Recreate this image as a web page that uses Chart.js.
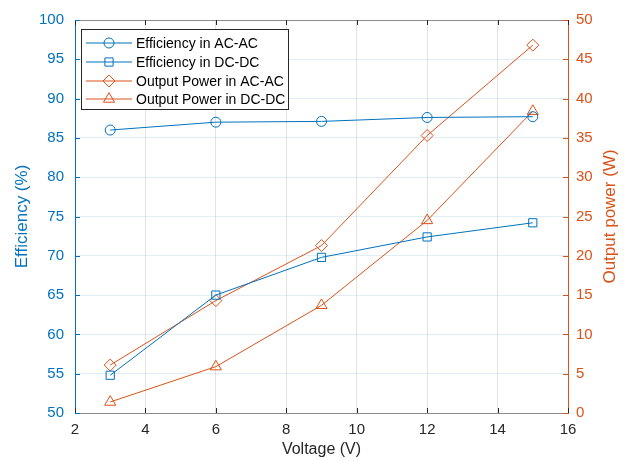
<!DOCTYPE html>
<html><head><meta charset="utf-8">
<script src="https://cdn.jsdelivr.net/npm/chart.js@4/dist/chart.umd.min.js"></script>
<style>html,body{margin:0;padding:0;background:#fff}#wrap{width:627px;height:460px}</style>
</head><body><div id="wrap"><canvas id="c" width="627" height="460"></canvas></div>
<script>
const voltage = [3, 6, 9, 12, 15];
const effACAC = [86.0, 87.0, 87.1, 87.6, 87.7];
const effDCDC = [54.8, 65.0, 69.8, 72.4, 74.2];
const powACAC = [6.1, 14.3, 21.3, 35.3, 46.8];
const powDCDC = [1.4, 5.9, 13.7, 24.5, 38.4];
const seriesNames = ['Efficiency in AC-AC', 'Efficiency in DC-DC', 'Output Power in AC-AC', 'Output Power in DC-DC'];
const xTicks = [2, 4, 6, 8, 10, 12, 14, 16];

const BLUE = '#0072BD', ORANGE = '#D95319', AX = '#262626';
const FONT = '"Liberation Sans", Arial, Helvetica, sans-serif';
const seriesColors = [BLUE, BLUE, ORANGE, ORANGE];
const seriesMarkers = ['circle', 'rect', 'rectRot', 'triangle'];
const markerRadius = [5, 5.8, 6, 6.4];
const pts = ys => voltage.map((v, i) => ({x: v, y: ys[i]}));

function ds(i, ys, axis) {
  const color = seriesColors[i];
  return {label: seriesNames[i], data: pts(ys), borderColor: color, backgroundColor: 'rgba(0,0,0,0)',
    borderWidth: 1, pointStyle: seriesMarkers[i], pointRadius: markerRadius[i], pointHoverRadius: markerRadius[i],
    pointBorderColor: color, pointBackgroundColor: 'rgba(0,0,0,0)', pointBorderWidth: 1,
    yAxisID: axis, tension: 0};
}

const datasets = [
  ds(0, effACAC, 'y'),
  ds(1, effDCDC, 'y'),
  ds(2, powACAC, 'y1'),
  ds(3, powDCDC, 'y1')
];

const framePlugin = {
  id: 'frame',
  afterDraw(chart) {
    const {ctx, chartArea: a, scales} = chart;
    ctx.save();
    ctx.lineWidth = 1;
    ctx.strokeStyle = '#8c8c8c';
    ctx.beginPath(); ctx.moveTo(a.left, a.top + 0.5); ctx.lineTo(a.right, a.top + 0.5); ctx.stroke();
    const tl = 5;
    ctx.strokeStyle = AX;
    xTicks.forEach(t => {
      const px = Math.round(scales.x.getPixelForValue(t)) + 0.5;
      ctx.beginPath(); ctx.moveTo(px, a.bottom); ctx.lineTo(px, a.bottom - tl);
      ctx.moveTo(px, a.top); ctx.lineTo(px, a.top + tl); ctx.stroke();
    });
    ctx.strokeStyle = BLUE;
    for (let v = 50; v <= 100; v += 5) {
      const py = Math.round(scales.y.getPixelForValue(v)) + 0.5;
      ctx.beginPath(); ctx.moveTo(a.left, py); ctx.lineTo(a.left + tl, py); ctx.stroke();
    }
    ctx.strokeStyle = ORANGE;
    for (let v = 0; v <= 50; v += 5) {
      const py = Math.round(scales.y1.getPixelForValue(v)) + 0.5;
      ctx.beginPath(); ctx.moveTo(a.right, py); ctx.lineTo(a.right - tl, py); ctx.stroke();
    }
    // right axis title (reads bottom to top)
    ctx.save();
    ctx.translate(610, (a.top + a.bottom) / 2);
    ctx.rotate(-Math.PI / 2);
    ctx.fillStyle = ORANGE;
    ctx.font = '17px ' + FONT;
    ctx.textAlign = 'center';
    ctx.textBaseline = 'middle';
    ctx.fillText('Output power (W)', 0, 0);
    ctx.restore();
    // legend
    const bx = 81.5, by = 29.5, bw = 207, bh = 80;
    ctx.fillStyle = '#fff';
    ctx.fillRect(bx, by, bw, bh);
    ctx.strokeStyle = AX;
    ctx.lineWidth = 1;
    ctx.strokeRect(bx, by, bw, bh);
    const rows = [43, 62, 81, 99];
    ctx.textBaseline = 'middle';
    ctx.textAlign = 'left';
    seriesNames.forEach((name, i) => {
      const y = rows[i];
      ctx.lineWidth = 1;
      ctx.strokeStyle = seriesColors[i];
      ctx.beginPath(); ctx.moveTo(86, y); ctx.lineTo(132, y); ctx.stroke();
      ctx.fillStyle = 'rgba(0,0,0,0)';
      Chart.helpers.drawPoint(ctx, {pointStyle: seriesMarkers[i], radius: markerRadius[i], rotation: 0, borderWidth: 1}, 109, y);
      ctx.fillStyle = '#000';
      ctx.font = '14px ' + FONT;
      ctx.fillText(name, 136, y + 1);
    });
    ctx.restore();
  }
};

new Chart(document.getElementById('c'), {
  type: 'line',
  data: {datasets},
  plugins: [framePlugin],
  options: {
    responsive: false, animation: false, devicePixelRatio: 1,
    layout: {padding: {top: 18, left: 0, right: 0, bottom: 0}},
    plugins: {legend: {display: false}, tooltip: {enabled: false}},
    scales: {
      x: {
        type: 'linear', min: 2, max: 16, position: 'bottom',
        afterBuildTicks: s => { s.ticks = xTicks.map(v => ({value: v})); },
        afterFit: s => { s.height = 47; },
        ticks: {color: AX, font: {family: FONT, size: 15}, padding: 8, maxRotation: 0},
        grid: {color: 'rgba(38,38,38,0.13)', drawTicks: false},
        border: {color: '#8c8c8c'},
        title: {display: true, text: 'Voltage (V)', color: AX, font: {family: FONT, size: 16, lineHeight: 1}, padding: {top: 0, bottom: 2}}
      },
      y: {
        type: 'linear', position: 'left', min: 50, max: 100,
        afterFit: s => { s.width = 75; },
        ticks: {stepSize: 5, color: BLUE, font: {family: FONT, size: 15}, padding: 11},
        grid: {color: 'rgba(0,114,189,0.12)', drawTicks: false},
        border: {color: BLUE},
        title: {display: true, text: 'Efficiency (%)', color: BLUE, font: {family: FONT, size: 17, lineHeight: 1}, padding: {top: 14, bottom: 0}}
      },
      y1: {
        type: 'linear', position: 'right', min: 0, max: 50,
        afterFit: s => { s.width = 59; },
        ticks: {stepSize: 5, color: ORANGE, font: {family: FONT, size: 15}, padding: 8},
        grid: {drawOnChartArea: false, drawTicks: false},
        border: {color: ORANGE},
        title: {display: false}
      }
    }
  }
});
</script></body></html>
